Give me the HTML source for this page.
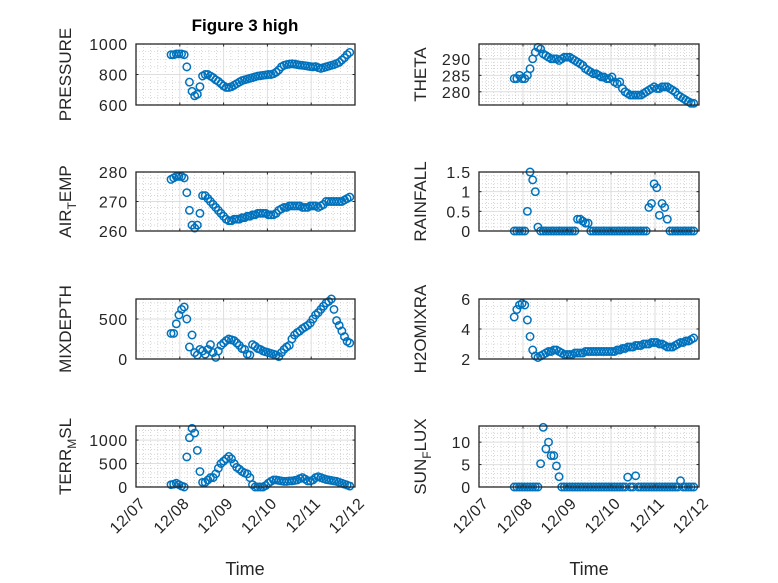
<!DOCTYPE html>
<html><head><meta charset="utf-8"><style>
html,body{margin:0;padding:0;background:#fff}
svg{display:block;font-family:"Liberation Sans",sans-serif}
</style></head><body>
<svg id="fig" width="778" height="583" viewBox="0 0 778 583" xmlns="http://www.w3.org/2000/svg">
<rect width="778" height="583" fill="#fff"/>
<text x="245" y="31" text-anchor="middle" font-weight="bold" font-size="17" fill="#000">Figure 3 high</text>
<text x="245" y="575" text-anchor="middle" font-size="18" fill="#262626">Time</text>
<text x="589" y="575" text-anchor="middle" font-size="18" fill="#262626">Time</text>
</svg>
<script>
const times=[0.80,0.86,0.92,0.98,1.04,1.10,1.16,1.22,1.28,1.34,1.40,1.46,1.52,1.58,1.64,1.70,1.76,1.82,1.88,1.94,2.00,2.06,2.12,2.18,2.24,2.30,2.36,2.42,2.48,2.54,2.60,2.66,2.72,2.78,2.84,2.90,2.96,3.02,3.08,3.14,3.20,3.26,3.32,3.38,3.44,3.50,3.56,3.62,3.68,3.74,3.80,3.86,3.92,3.98,4.04,4.10,4.16,4.22,4.28,4.34,4.40,4.46,4.52,4.58,4.64,4.70,4.76,4.82,4.88];
const xTickLabels=["12/07","12/08","12/09","12/10","12/11","12/12"];
const pressure=[930,930,935,935,935,930,850,750,690,660, 670,720,790,800,800,790,780,765,755,740, 725,715,715,720,730,740,750,760,765,770, 775,780,785,790,792,795,797,800,800,805, 815,830,850,860,865,868,870,868,865,862, 860,858,855,852,850,852,845,840,845,850, 855,860,865,872,880,895,910,930,945];
const airTemp=[277.5,278,278.5,278.5,278.5,278,273,267,262,261, 262,266,272,272,271,270,269,268,267,266, 265,264,263.5,263.5,264,264,264,264.5,264.5,265, 265,265.5,265.5,266,266,266,266,265.5,265.5,265.5, 266,267,267.5,268,268,268.5,268.5,268.5,268.5,268.5, 268,268,268,268.5,268.5,268.5,268,268.5,269,270, 270,270,270,270,270,270,270.5,271,271.5];
const mixDepth=[320,320,440,550,620,650,500,150,300,80, 50,120,100,60,120,180,80,20,100,170, 200,230,250,240,230,200,170,130,120,60, 50,180,160,130,120,100,90,80,70,60, 50,30,80,120,150,170,250,300,330,350, 380,400,420,450,500,550,580,620,660,700, 720,750,620,480,420,350,280,220,200];
const terrMsl=[50,60,80,50,20,0,640,1050,1250,1150, 780,330,100,100,150,200,200,280,400,500, 550,600,650,600,500,420,380,330,300,280, 200,50,0,0,0,0,30,80,120,150, 150,140,130,120,120,130,130,140,150,180, 200,170,130,130,150,200,220,200,180,160, 150,140,130,120,100,80,60,40,20];
const theta=[284,284,285,284,284,285,287,290,292,293.5, 293,291.5,291,290.5,290,290,290,289.5,290,290.5, 290.5,290.5,290,289.5,289,288.5,288,287,286.5,286, 285.5,285.5,285,284.5,284.5,284,284,284.5,283,282.5, 283,281,280,279.5,279,279,279,279,279,279.5, 280,280.5,281,281.5,281,281,281.5,281.5,281.5,281, 280.5,280,279,278.5,278,277.5,277,276.5,276.5];
const rainfall=[0,0,0,0,0,0.5,1.5,1.3,1.0,0.1, 0,0,0,0,0,0,0,0,0,0, 0,0,0,0,0.3,0.3,0.25,0.2,0.2,0, 0,0,0,0,0,0,0,0,0,0, 0,0,0,0,0,0,0,0,0,0, 0,0.6,0.7,1.2,1.1,0.4,0.7,0.6,0.3,0, 0,0,0,0,0,0,0,0,0];
const h2oMixRa=[4.8,5.3,5.6,5.7,5.6,4.6,3.5,2.6,2.2,2.1, 2.2,2.3,2.4,2.5,2.5,2.6,2.6,2.5,2.4,2.3, 2.3,2.3,2.3,2.4,2.4,2.4,2.4,2.5,2.5,2.5, 2.5,2.5,2.5,2.5,2.5,2.5,2.5,2.5,2.5,2.6, 2.6,2.7,2.7,2.8,2.8,2.8,2.9,2.9,2.9,3.0, 3.0,3.0,3.1,3.1,3.1,3.0,3.0,2.9,2.8,2.8, 2.8,2.9,3.0,3.1,3.1,3.2,3.2,3.3,3.4];
const sunFlux=[0,0,0,0,0,0,0,0,0,0, 5.2,13.3,8.5,10,7,7,4.7,2.3,0,0, 0,0,0,0,0,0,0,0,0,0, 0,0,0,0,0,0,0,0,0,0, 0,0,0,2.2,0,0,2.5,0,0,0, 0,0,0,0,0,0,0,0,0,0, 0,0,0,1.4,0,0,0,0,0];

const NS="http://www.w3.org/2000/svg";
const svg=document.getElementById('fig');
function mk(tag,at,parent){const e=document.createElementNS(NS,tag);for(const k in at)e.setAttribute(k,at[k]);(parent||svg).appendChild(e);return e;}

const panels=[
 {key:'pressure',label:['PRESSURE'],data:pressure,x0:136,w:219,y0:44,h:61,ymin:600,ymax:1000,ticks:[600,800,1000],minor:50,lx:71},
 {key:'theta',label:['THETA'],data:theta,x0:479,w:220,y0:44,h:61,ymin:276,ymax:294.5,ticks:[280,285,290],minor:1,lx:426},
 {key:'air-temp',label:['AIR','T','EMP'],data:airTemp,x0:136,w:219,y0:172,h:59,ymin:260,ymax:280,ticks:[260,270,280],minor:2,lx:71},
 {key:'rainfall',label:['RAINFALL'],data:rainfall,x0:479,w:220,y0:172,h:59,ymin:0,ymax:1.5,ticks:[0,0.5,1,1.5],minor:0.1,lx:426},
 {key:'mixdepth',label:['MIXDEPTH'],data:mixDepth,x0:136,w:219,y0:299,h:60,ymin:0,ymax:750,ticks:[0,500],minor:100,lx:71},
 {key:'h2omixra',label:['H2OMIXRA'],data:h2oMixRa,x0:479,w:220,y0:299,h:60,ymin:2,ymax:6,ticks:[2,4,6],minor:0.5,lx:426},
 {key:'terr-msl',label:['TERR','M','SL'],data:terrMsl,x0:136,w:219,y0:426,h:61,ymin:0,ymax:1300,ticks:[0,500,1000],minor:100,lx:71,bottom:true},
 {key:'sun-flux',label:['SUN','F','LUX'],data:sunFlux,x0:479,w:220,y0:426,h:61,ymin:0,ymax:13.6,ticks:[0,5,10],minor:1,lx:426,bottom:true}
];

panels.forEach(p=>{
 const g=mk('g',{});
 
 
 const xs=t=>p.x0+p.w*t/5;
 const ys=v=>p.y0+p.h-(v-p.ymin)/(p.ymax-p.ymin)*p.h;
 for(let k=1;k<30;k++){ if(k%6===0)continue; const x=xs(k/6);
  mk('line',{x1:x,x2:x,y1:p.y0,y2:p.y0+p.h,stroke:'#bdbdbd','stroke-width':0.6,'stroke-dasharray':'1 2'},g);}
 const eps=1e-9;
 for(let v=Math.ceil(p.ymin/p.minor)*p.minor;v<p.ymax-eps;v+=p.minor){
  if(p.ticks.some(t=>Math.abs(t-v)<eps))continue; const y=ys(v);
  mk('line',{x1:p.x0,x2:p.x0+p.w,y1:y,y2:y,stroke:'#bdbdbd','stroke-width':0.6,'stroke-dasharray':'1 2'},g);}
 for(let d=1;d<5;d++){const x=xs(d);mk('line',{x1:x,x2:x,y1:p.y0,y2:p.y0+p.h,stroke:'#dedede','stroke-width':1},g);}
 p.ticks.forEach(v=>{const y=ys(v);mk('line',{x1:p.x0,x2:p.x0+p.w,y1:y,y2:y,stroke:'#dedede','stroke-width':1},g);});
 const sg=mk('g',{},g);
 
 
 p.data.forEach((v,i)=>{
  const c=mk('circle',{cx:xs(times[i]),cy:ys(v),r:3.7,fill:'none',stroke:'#0072BD','stroke-width':1.5},sg);
  
  
 });
 const b=mk('rect',{x:p.x0,y:p.y0,width:p.w,height:p.h,fill:'none',stroke:'#262626','stroke-width':1.3},g);
 
 
 for(let d=0;d<=5;d++){const x=xs(d);
  mk('line',{x1:x,x2:x,y1:p.y0+p.h,y2:p.y0+p.h-2.5,stroke:'#262626','stroke-width':1},g);
  mk('line',{x1:x,x2:x,y1:p.y0,y2:p.y0+2.5,stroke:'#262626','stroke-width':1},g);
  if(p.bottom){const tx=mk('text',{x:x+3,y:p.y0+p.h+10,'text-anchor':'end','font-size':16,'letter-spacing':0.5,fill:'#262626',transform:`rotate(-45 ${x+3} ${p.y0+p.h+10})`,'dominant-baseline':'hanging'},g);
   tx.textContent=xTickLabels[d];
   
   }
 }
 p.ticks.forEach(v=>{const y=ys(v);
  mk('line',{x1:p.x0,x2:p.x0+2.5,y1:y,y2:y,stroke:'#262626','stroke-width':1},g);
  mk('line',{x1:p.x0+p.w,x2:p.x0+p.w-2.5,y1:y,y2:y,stroke:'#262626','stroke-width':1},g);
  const tx=mk('text',{x:p.x0-8,y:y+6,'text-anchor':'end','font-size':16,'letter-spacing':0.8,fill:'#262626'},g);
  tx.textContent=String(v);
  
  
 });
 const cy=p.y0+p.h/2;
 const yl=mk('text',{x:p.lx,y:cy,'text-anchor':'middle','font-size':17,fill:'#262626',transform:`rotate(-90 ${p.lx} ${cy})`},g);
 
 
 if(p.label.length===1){yl.textContent=p.label[0];}
 else{
  const a=mk('tspan',{},yl);a.textContent=p.label[0];
  const s=mk('tspan',{dy:5,'font-size':12},yl);s.textContent=p.label[1];
  const c=mk('tspan',{dy:-5},yl);c.textContent=p.label[2];
 }
});
</script>
</body></html>
